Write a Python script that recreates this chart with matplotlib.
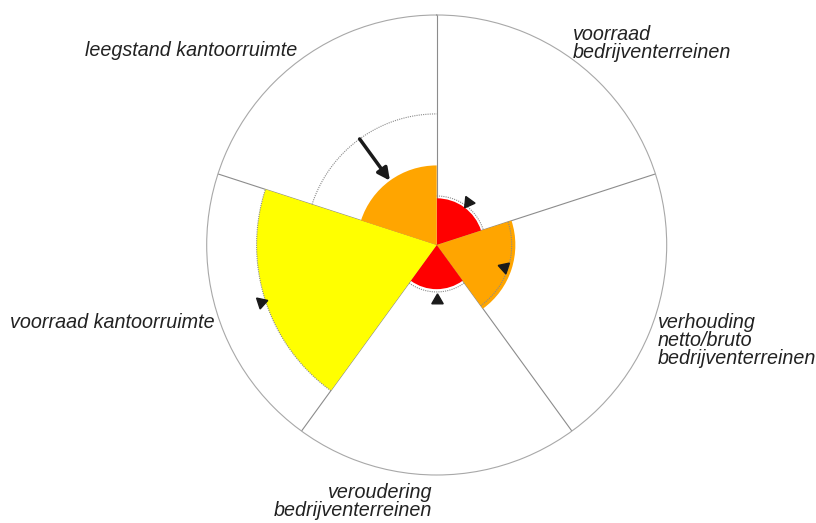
import numpy as np
import matplotlib
matplotlib.use("Agg")
import matplotlib.pyplot as plt

# indicators, clockwise from the top
labels = [
    ["voorraad", "bedrijventerreinen"],
    ["verhouding", "netto/bruto", "bedrijventerreinen"],
    ["veroudering", "bedrijventerreinen"],
    ["voorraad kantoorruimte"],
    ["leegstand kantoorruimte"],
]
scores = [20.3, 34.2, 19.2, 78.3, 34.6]        # coloured sector length (0-100)
reference = [21.3, 32.6, 20.4, 78.3, 57.0]     # dotted arc
marker_pos = [23.0, 30.9, 24.0, 80.4]          # triangle markers (first four sectors)
colors = ["#ff0000", "#ffa500", "#ff0000", "#ffff00", "#ffa500"]

W, H = 816, 523
fig = plt.figure(figsize=(W / 100, H / 100), dpi=100)

cx, cy, R = 436.7, 245, 230
ax = fig.add_axes([(cx - R) / W, (H - cy - R) / H, 2 * R / W, 2 * R / H], projection="polar")
ax.set_theta_zero_location("N")
ax.set_theta_direction(-1)
ax.set_ylim(0, 100)
ax.set_xticks([])
ax.set_yticks([])
ax.grid(False)
ax.spines["polar"].set_color("#a8a8a8")
ax.spines["polar"].set_linewidth(0.8)

n = len(scores)
width = 2 * np.pi / n
starts = np.arange(n) * width
mids = starts + width / 2

# sector boundaries
for t in starts:
    ax.plot([t, t], [0, 100], color="#8c8c8c", lw=0.8, zorder=1)

ax.bar(mids, scores, width=width, bottom=0, color=colors, edgecolor="none", zorder=2)

# dotted reference arcs
for t0, ref in zip(starts, reference):
    th = np.linspace(t0, t0 + width, 120)
    ax.plot(th, np.full_like(th, ref), ls=(0, (1, 1)), color="#8a8a8a", lw=0.8, zorder=3)

# triangle markers pointing to the centre
for t, r in zip(mids, marker_pos):
    rot = 180 - np.degrees(t)
    ax.plot([t], [r], marker=(3, 0, rot), ms=9.5, color="#1a1a1a", zorder=4, clip_on=False)

# arrow for the last sector (from reference down to score)
ax.annotate("", xy=(mids[4], scores[4]), xytext=(mids[4], reference[4]),
            arrowprops=dict(arrowstyle="-|>", color="#1a1a1a", lw=2.5,
                            mutation_scale=18, shrinkA=0, shrinkB=0), zorder=5)

# label layout: (x, first baseline y, ha) in pixels
label_pos = [(573, 40, "left"), (658, 328, "left"), (432, 498, "right"),
             (10, 328, "left"), (85, 56.5, "left")]
line_step = 18
for lines, (x, y, ha) in zip(labels, label_pos):
    for i, s in enumerate(lines):
        fig.text(x / W, 1 - (y + i * line_step) / H, s, ha=ha, va="baseline",
                 fontsize=14.2, fontstyle="italic", family="Liberation Sans",
                 color="#222222")

fig.savefig("out.png", dpi=100)
